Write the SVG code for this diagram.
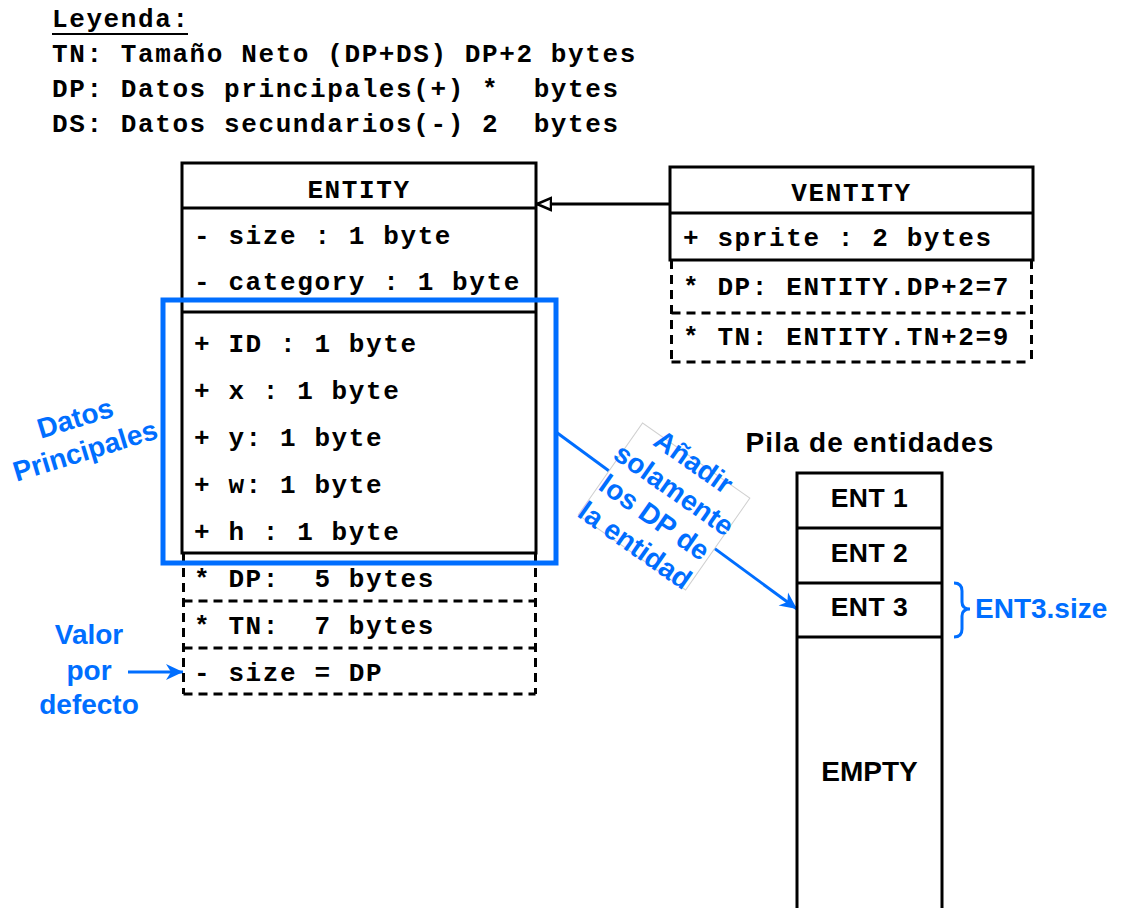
<svg xmlns="http://www.w3.org/2000/svg" width="1124" height="908" viewBox="0 0 1124 908">
<defs>
<style>
.mono{font-family:"Liberation Mono","Courier New",monospace;font-weight:bold;font-size:26px;letter-spacing:1.6px;fill:#000;white-space:pre}
.sans{font-family:"Liberation Sans",Arial,sans-serif;font-weight:bold;fill:#000}
.blue{font-family:"Liberation Sans",Arial,sans-serif;font-weight:bold;fill:#006EFF;font-size:28px}
.box{fill:#fff;stroke:#000;stroke-width:3}
.ln{stroke:#000;stroke-width:3;fill:none}
.dash{stroke:#000;stroke-width:3;fill:none;stroke-dasharray:9 6}
.bl{stroke:#006EFF;stroke-width:3;fill:none}
.mid{text-anchor:middle}
</style>
<marker id="inherit" markerUnits="userSpaceOnUse" viewBox="0 0 16 16" markerWidth="16" markerHeight="16" refX="15" refY="8" orient="auto">
<path d="M1,2 L15,8 L1,14 Z" fill="#fff" stroke="#000" stroke-width="2.5"/>
</marker>
<marker id="blueArrow" markerUnits="userSpaceOnUse" viewBox="0 0 18 18" markerWidth="18" markerHeight="18" refX="17" refY="9" orient="auto">
<path d="M0,1 L17,9 L0,17 L5,9 Z" fill="#006EFF"/>
</marker>
</defs>
<rect width="1124" height="908" fill="#fff"/>

<g id="legend">
<text class="mono" x="52" y="27" xml:space="preserve">Leyenda:</text>
<line x1="52" y1="34" x2="188" y2="34" stroke="#000" stroke-width="2"/>
<text class="mono" x="52" y="62" xml:space="preserve">TN: Tamaño Neto (DP+DS) DP+2 bytes</text>
<text class="mono" x="52" y="97" xml:space="preserve">DP: Datos principales(+) *  bytes</text>
<text class="mono" x="52" y="132" xml:space="preserve">DS: Datos secundarios(-) 2  bytes</text>
</g>

<g id="connectors">
<line class="ln" x1="670" y1="204" x2="537" y2="204" marker-end="url(#inherit)"/>
<line class="bl" x1="556" y1="432" x2="797" y2="609" marker-end="url(#blueArrow)"/>
<line class="bl" x1="128" y1="672" x2="183" y2="672" marker-end="url(#blueArrow)"/>
</g>

<g id="entity">
<rect class="box" x="182" y="163" width="354" height="390"/>
<line class="ln" x1="182" y1="208" x2="536" y2="208"/>
<line class="ln" x1="182" y1="312" x2="536" y2="312"/>
<text class="mono mid" x="359" y="198">ENTITY</text>
<text class="mono" x="194" y="244" xml:space="preserve">- size : 1 byte</text>
<text class="mono" x="194" y="290" xml:space="preserve">- category : 1 byte</text>
<text class="mono" x="194" y="352" xml:space="preserve">+ ID : 1 byte</text>
<text class="mono" x="194" y="399" xml:space="preserve">+ x : 1 byte</text>
<text class="mono" x="194" y="446" xml:space="preserve">+ y: 1 byte</text>
<text class="mono" x="194" y="493" xml:space="preserve">+ w: 1 byte</text>
<text class="mono" x="194" y="540" xml:space="preserve">+ h : 1 byte</text>
<path class="dash" d="M183.5,553 V694 M535.5,553 V694 M183.5,601 H535.5 M183.5,648 H535.5 M183.5,694 H535.5"/>
<text class="mono" x="194" y="587" xml:space="preserve">* DP:  5 bytes</text>
<text class="mono" x="194" y="634" xml:space="preserve">* TN:  7 bytes</text>
<text class="mono" x="194" y="681" xml:space="preserve">- size = DP</text>
</g>

<g id="datos-principales">
<rect x="163" y="300" width="393" height="263" fill="none" stroke="#006EFF" stroke-width="5"/>
<g transform="translate(80,434) rotate(-17)">
<text class="blue mid" x="0" y="-7" font-size="27">Datos</text>
<text class="blue mid" x="0" y="27" font-size="27">Principales</text>
</g>
</g>

<g id="ventity">
<rect class="box" x="670" y="167" width="363" height="93"/>
<line class="ln" x1="670" y1="213" x2="1033" y2="213"/>
<text class="mono mid" x="851.5" y="201">VENTITY</text>
<text class="mono" x="683" y="246" xml:space="preserve">+ sprite : 2 bytes</text>
<path class="dash" d="M671.5,260 V362 M1031.5,260 V362 M671.5,313 H1031.5 M671.5,362 H1031.5"/>
<text class="mono" x="683" y="295" xml:space="preserve">* DP: ENTITY.DP+2=7</text>
<text class="mono" x="683" y="345" xml:space="preserve">* TN: ENTITY.TN+2=9</text>
</g>

<g id="label-anadir" transform="translate(664,504) rotate(35)">
<rect x="-64" y="-54" width="131" height="112" fill="#fff" stroke="#d0d0d0" stroke-width="1"/>
<text class="blue mid" x="0" y="-42">Añadir</text>
<text class="blue mid" x="0" y="-8">solamente</text>
<text class="blue mid" x="0" y="26">los DP de</text>
<text class="blue mid" x="0" y="60">la entidad</text>
</g>

<g id="valor-por-defecto">
<text class="blue mid" x="89" y="644" font-size="28.5">Valor</text>
<text class="blue mid" x="89" y="680" font-size="28.5">por</text>
<text class="blue mid" x="89" y="714" font-size="28.5">defecto</text>
</g>

<g id="pila">
<text class="sans mid" x="870" y="452" font-size="28" letter-spacing="1.2">Pila de entidades</text>
<rect class="box" x="797" y="473" width="145" height="450"/>
<line class="ln" x1="797" y1="528" x2="942" y2="528"/>
<line class="ln" x1="797" y1="583" x2="942" y2="583"/>
<line class="ln" x1="797" y1="637" x2="942" y2="637"/>
<text class="sans mid" x="869.5" y="507" font-size="26.5" letter-spacing="0.5">ENT 1</text>
<text class="sans mid" x="869.5" y="562" font-size="26.5" letter-spacing="0.5">ENT 2</text>
<text class="sans mid" x="869.5" y="616" font-size="26.5" letter-spacing="0.5">ENT 3</text>
<text class="sans mid" x="869.5" y="781" font-size="28">EMPTY</text>
</g>

<g id="ent3-size">
<path class="bl" d="M954,583 Q962,583 962,591 V602 Q962,609 970,609 Q962,609 962,616 V629 Q962,637 954,637"/>
<text class="blue" x="975" y="618" font-size="28.5">ENT3.size</text>
</g>
</svg>
